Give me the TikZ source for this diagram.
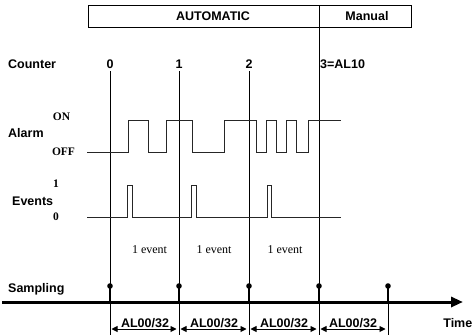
\documentclass[tikz,border=0pt]{standalone}
\usepackage{fontspec}
\setmainfont{Liberation Serif}
\setsansfont{Liberation Sans}
\usetikzlibrary{arrows.meta}
\tikzset{
  sans/.style={font=\sffamily\bfseries\fontsize{12.5}{14}\selectfont, inner sep=0pt},
  serifb/.style={font=\rmfamily\bfseries\fontsize{11.5}{13}\selectfont, inner sep=0pt},
  serif/.style={font=\rmfamily\fontsize{12}{14}\selectfont, inner sep=0pt},
  sig/.style={draw=black!85, line width=1pt},
  vline/.style={draw=black, line width=0.9pt},
  stem/.style={draw=black, line width=2.2pt},
  dur/.style={draw=black, line width=0.9pt, {Triangle[length=6pt,width=6pt]}-{Triangle[length=6pt,width=6pt]}},
}
\begin{document}
\begin{tikzpicture}[x=1pt,y=-1pt]
\useasboundingbox (0,0) rectangle (474,335);
% mode box
\draw[line width=0.9pt] (88,5) rectangle (411,27);
\node[sans, anchor=base] (automatic) at (213,20.7) {AUTOMATIC};
\node[sans, anchor=base] (manual) at (367,20.7) {Manual};
% counter
\node[sans, anchor=base west] (counter) at (8,68.5) {Counter};
\node[sans, anchor=base] (c0) at (110,68.5) {0};
\node[sans, anchor=base] (c1) at (179,68.5) {1};
\node[sans, anchor=base] (c2) at (249,68.5) {2};
\node[sans, anchor=base west] (c3) at (320,68.5) {3=AL10};
% coordinates
\coordinate (t0top) at (110,71);
\coordinate (t1top) at (179,71);
\coordinate (t2top) at (249,71);
\coordinate (t3top) at (319,5);
\coordinate (t0dot) at (110,286);
\coordinate (t1dot) at (179,286);
\coordinate (t2dot) at (249,286);
\coordinate (t3dot) at (319,286);
\coordinate (t4dot) at (388,286);
\coordinate (t0ax) at (110,302);
\coordinate (t1ax) at (179,302);
\coordinate (t2ax) at (249,302);
\coordinate (t3ax) at (319,302);
\coordinate (t4ax) at (388,302);
\coordinate (t0bot) at (110,335);
\coordinate (t1bot) at (179,335);
\coordinate (t2bot) at (249,335);
\coordinate (t3bot) at (319,335);
\coordinate (t4bot) at (388,335);
% vertical lines
\draw[vline] (t0top) -- (t0bot);
\draw[vline] (t1top) -- (t1bot);
\draw[vline] (t2top) -- (t2bot);
\draw[vline] (t3top) -- (t3bot);
\draw[vline] (t4dot) -- (t4bot);
% labels left
\node[serifb, anchor=base] (on) at (61.5,120) {ON};
\node[sans, anchor=base west] (alarm) at (8,137.5) {Alarm};
\node[serifb, anchor=base] (off) at (63.5,155) {OFF};
\node[serifb, anchor=base] (one) at (56,187) {1};
\node[sans, anchor=base west] (events) at (12,205) {Events};
\node[serifb, anchor=base] (zero) at (56,220.5) {0};
% alarm signal
\draw[sig] (87,152.5) -- (128,152.5) -- (128,120.3) -- (148,120.3) -- (148,152.5)
  -- (166,152.5) -- (166,120.3) -- (192,120.3) -- (192,152.5)
  -- (224,152.5) -- (224,120.3) -- (256,120.3) -- (256,152.5)
  -- (266,152.5) -- (266,120.3) -- (276,120.3) -- (276,152.5)
  -- (286,152.5) -- (286,120.3) -- (296,120.3) -- (296,152.5)
  -- (308,152.5) -- (308,120.3) -- (341,120.3);
% events signal
\draw[sig] (87,217.7) -- (127.3,217.7) -- (127.3,185.3) -- (132.3,185.3) -- (132.3,217.7)
  -- (191.7,217.7) -- (191.7,185.3) -- (196,185.3) -- (196,217.7)
  -- (267.3,217.7) -- (267.3,185.3) -- (271.3,185.3) -- (271.3,217.7)
  -- (341,217.7);
% event counts
\node[serif, anchor=base] (ev1) at (149.5,253) {1 event};
\node[serif, anchor=base] (ev2) at (214,253) {1 event};
\node[serif, anchor=base] (ev3) at (285,253) {1 event};
% sampling axis
\node[sans, anchor=base west] (sampling) at (8,292.5) {Sampling};
\coordinate (axstart) at (2,302);
\coordinate (axend) at (463,302);
\draw[line width=3pt, -{Triangle[length=12pt,width=10pt]}] (axstart) -- (axend);
\draw[stem] (t0dot) -- (t0ax);
\draw[stem] (t1dot) -- (t1ax);
\draw[stem] (t2dot) -- (t2ax);
\draw[stem] (t3dot) -- (t3ax);
\draw[stem] (t4dot) -- (t4ax);
\fill (t0dot) circle (2.8);
\fill (t1dot) circle (2.8);
\fill (t2dot) circle (2.8);
\fill (t3dot) circle (2.8);
\fill (t4dot) circle (2.8);
% durations
\coordinate (d0a) at (111.5,329); \coordinate (d0b) at (176.5,329);
\coordinate (d1a) at (180.5,329); \coordinate (d1b) at (246.5,329);
\coordinate (d2a) at (250.5,329); \coordinate (d2b) at (316.5,329);
\coordinate (d3a) at (320.5,329); \coordinate (d3b) at (385.5,329);
\draw[dur] (d0a) -- (d0b);
\draw[dur] (d1a) -- (d1b);
\draw[dur] (d2a) -- (d2b);
\draw[dur] (d3a) -- (d3b);
\node[sans, anchor=base] (p0) at (145,327) {AL00/32};
\node[sans, anchor=base] (p1) at (214,327) {AL00/32};
\node[sans, anchor=base] (p2) at (284,327) {AL00/32};
\node[sans, anchor=base] (p3) at (353,327) {AL00/32};
\node[sans, anchor=base east] (time) at (472.5,327) {Time};
\end{tikzpicture}
\end{document}
